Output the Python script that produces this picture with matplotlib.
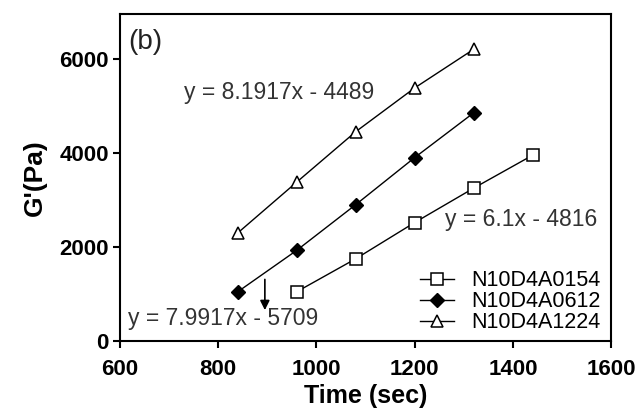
import numpy as np
import matplotlib.pyplot as plt

plt.rcParams['font.family'] = ['Liberation Sans', 'DejaVu Sans']

# data
t_sq = [960, 1080, 1200, 1320, 1440]
g_sq = [1050, 1750, 2520, 3250, 3950]
t_di = [840, 960, 1080, 1200, 1320]
g_di = [1050, 1930, 2900, 3900, 4850]
t_tr = [840, 960, 1080, 1200, 1320]
g_tr = [2300, 3380, 4450, 5380, 6200]
labels = ['N10D4A0154', 'N10D4A0612', 'N10D4A1224']

fig = plt.figure(figsize=(6.38, 4.12), dpi=100)
ax = fig.add_axes([0.188, 0.172, 0.770, 0.794])

ax.plot(t_sq, g_sq, '-s', color='black', lw=1, ms=8, mfc='white', mew=1.1, label=labels[0])
ax.plot(t_di, g_di, '-D', color='black', lw=1, ms=7, mfc='black', label=labels[1])
ax.plot(t_tr, g_tr, '-^', color='black', lw=1, ms=8, mfc='white', mew=1.1, label=labels[2])

ax.set_xlim(600, 1600)
ax.set_ylim(0, 6950)
ax.set_xticks([600, 800, 1000, 1200, 1400, 1600])
ax.set_yticks([0, 2000, 4000, 6000])
ax.tick_params(direction='out', length=5, width=1.5, labelsize=16, pad=3)
ax.tick_params(axis='x', pad=8)
for lab in ax.get_xticklabels() + ax.get_yticklabels():
    lab.set_fontweight('bold')
for s in ax.spines.values():
    s.set_linewidth(1.5)

ax.set_xlabel('Time (sec)', fontsize=18, fontweight='bold', labelpad=3)
ax.set_ylabel("G'(Pa)", fontsize=19, fontweight='bold', labelpad=9)

ax.text(616, 6360, '(b)', fontsize=20, va='center', color='#222222')
ax.text(730, 5277, 'y = 8.1917x - 4489', fontsize=16.5, va='center', color='#333333')
ax.text(1262, 2574, 'y = 6.1x - 4816', fontsize=16.5, va='center', color='#333333')
ax.text(616, 490, 'y = 7.9917x - 5709', fontsize=16.5, va='center', color='#333333')
ax.annotate('', xy=(895, 600), xytext=(895, 1370),
            arrowprops=dict(arrowstyle='-|>', color='black', lw=1.2, mutation_scale=14))

ax.legend(loc='lower right', frameon=False, fontsize=15.5, handlelength=1.6,
          handletextpad=0.8, labelspacing=0.0, borderaxespad=0.2,
          bbox_to_anchor=(1.005, -0.015))

fig.savefig('out.png', dpi=100)
